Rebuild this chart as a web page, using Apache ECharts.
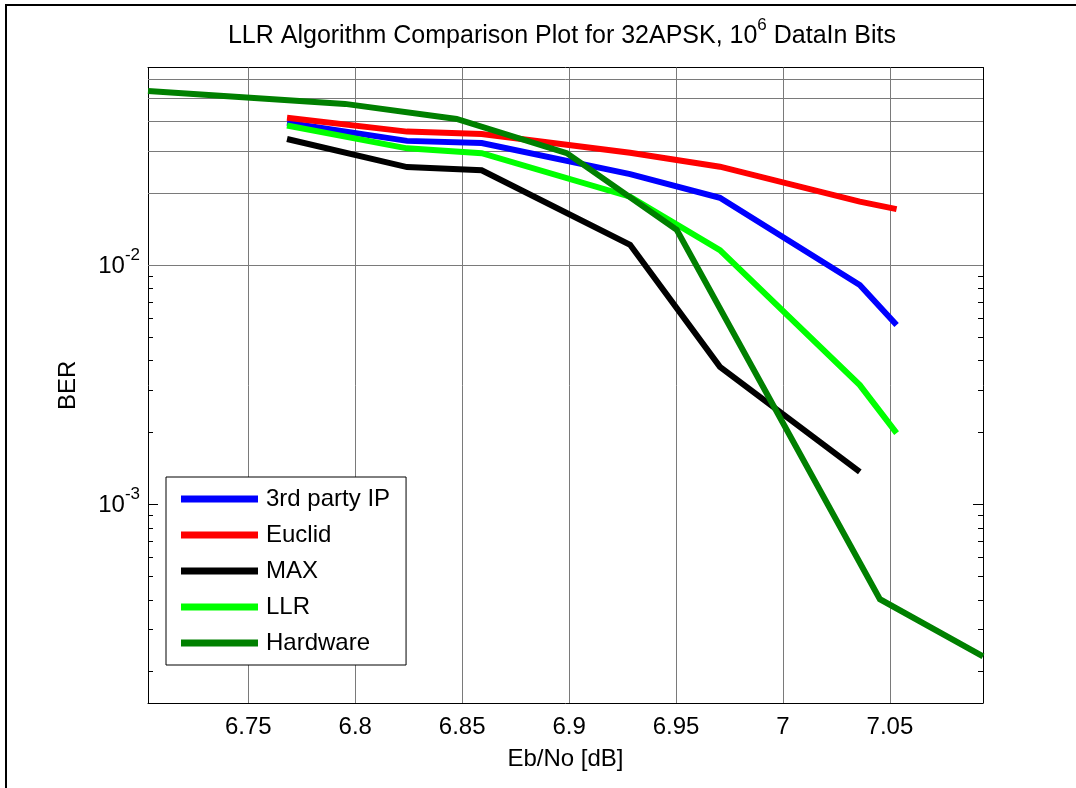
<!DOCTYPE html>
<html><head><meta charset="utf-8">
<script src="https://cdn.jsdelivr.net/npm/echarts@6/dist/echarts.min.js"></script>
<style>html,body{margin:0;padding:0;background:#fff}#c{width:1076px;height:788px}</style>
</head><body><div id="c"></div>
<script>
// ---- data ----
const ebno   = [6.7681, 6.8242, 6.8591, 6.9285, 6.9705, 7.0359, 7.0531];
const ebnoHw = [6.7031, 6.7952, 6.8474, 6.8989, 6.9503, 7.0453, 7.0935];
const berIP     = [0.0395, 0.0332, 0.0325, 0.0241, 0.0192, 0.00829, 0.00564];
const berEuclid = [0.0415, 0.0363, 0.0355, 0.0296, 0.0259, 0.0185, 0.0172];
const berMax    = [0.0338, 0.0258, 0.0250, 0.0122, 0.00377, 0.00137];
const berLLR    = [0.0385, 0.0309, 0.0295, 0.0194, 0.0116, 0.00316, 0.00199];
const berHw     = [0.0537, 0.0474, 0.0410, 0.0295, 0.0141, 0.000402, 0.000232];
const seriesNames = ['3rd party IP', 'Euclid', 'MAX', 'LLR', 'Hardware'];
const xTicks = [6.75, 6.8, 6.85, 6.9, 6.95, 7.0, 7.05];
const yMajor = [1e-3, 1e-2];
const yMinor = [2e-4, 3e-4, 4e-4, 5e-4, 6e-4, 7e-4, 8e-4, 9e-4,
                2e-3, 3e-3, 4e-3, 5e-3, 6e-3, 7e-3, 8e-3, 9e-3,
                2e-2, 3e-2, 4e-2, 5e-2, 6e-2];
const xMin = 6.7031, xMax = 7.0935;
const yMin = 1.48e-4, yMax = 0.0673;

const FONT = "'Liberation Sans', Arial, sans-serif";
const pair = (xs, ys) => ys.map((v, i) => [xs[i], v]);

const chart = echarts.init(document.getElementById('c'), null, {renderer: 'canvas'});
const gridColor = '#7a7a7a';
const mkLine = (name, xs, ys, color) => ({
  name, type: 'line', xAxisIndex: 0, yAxisIndex: 0,
  data: pair(xs, ys), showSymbol: false, symbol: 'none', z: 3,
  lineStyle: {width: 6, color, join: 'miter', cap: 'butt'},
  itemStyle: {color}, animation: false
});

const yLabelFmt = v => {
  const e = Math.log10(v);
  if (Math.abs(e - Math.round(e)) < 1e-6) return '{b|10}{s|' + Math.round(e) + '}';
  return '';
};

const option = {
  animation: false,
  backgroundColor: '#fff',
  textStyle: {fontFamily: FONT},
  title: {
    text: '{a|LLR Algorithm Comparison Plot for 32APSK, 10}{s|6}{a| DataIn Bits}',
    left: 562, top: 15, textAlign: 'center', padding: 0,
    textStyle: {
      fontFamily: FONT, fontWeight: 'normal', color: '#000',
      rich: {
        a: {fontSize: 25, fontFamily: FONT, color: '#000', lineHeight: 34, verticalAlign: 'bottom'},
        s: {fontSize: 17, fontFamily: FONT, color: '#000', verticalAlign: 'top', padding: [2, 0, 0, 0]}
      }
    }
  },
  grid: {left: 148, top: 67.5, right: 93, bottom: 85, containLabel: false},
  legend: {
    orient: 'vertical', left: 166, top: 477,
    backgroundColor: '#fff', borderColor: '#000', borderWidth: 1, borderRadius: 0,
    padding: [10, 16, 10, 15],
    itemWidth: 77, itemHeight: 7, itemGap: 12, icon: 'rect',
    textStyle: {fontSize: 24, lineHeight: 24, color: '#000', fontFamily: FONT, padding: [0, 0, 0, 3]},
    data: seriesNames
  },
  graphic: [{
    type: 'rect', silent: true, z: 100,
    shape: {x: 6, y: 5, width: 1200, height: 1000},
    style: {fill: 'none', stroke: '#000', lineWidth: 2}
  }],
  xAxis: [{
    type: 'value', position: 'bottom', min: xMin, max: xMax,
    axisLine: {show: true, onZero: false, lineStyle: {color: '#000', width: 1}},
    axisTick: {show: true, inside: true, length: 9, customValues: xTicks, lineStyle: {color: '#000'}},
    axisLabel: {show: true, customValues: xTicks, fontSize: 24, color: '#000', fontFamily: FONT, margin: 12,
                formatter: v => String(Math.round(v * 100) / 100)},
    splitLine: {show: false},
    name: 'Eb/No [dB]', nameLocation: 'middle', nameGap: 44,
    nameTextStyle: {fontSize: 24, color: '#000', fontFamily: FONT}
  }, {
    type: 'value', position: 'top', min: xMin, max: xMax,
    axisLine: {show: true, onZero: false, lineStyle: {color: '#000', width: 1}},
    axisTick: {show: true, inside: true, length: 9, customValues: xTicks, lineStyle: {color: '#000'}},
    axisLabel: {show: false}, splitLine: {show: false}
  }],
  yAxis: [{
    type: 'log', logBase: 10, position: 'left', min: yMin, max: yMax,
    axisLine: {show: true, onZero: false, lineStyle: {color: '#000', width: 1}},
    axisTick: {show: true, inside: true, length: 10, lineStyle: {color: '#000'}},
    axisLabel: {show: true, margin: 8, formatter: yLabelFmt, color: '#000', padding: [0, 0, 6, 0],
      rich: {
        b: {fontSize: 24, fontFamily: FONT, color: '#000', lineHeight: 32, verticalAlign: 'bottom'},
        s: {fontSize: 17, fontFamily: FONT, color: '#000', verticalAlign: 'top'}
      }},
    splitLine: {show: false}, minorTick: {show: false},
    name: 'BER', nameLocation: 'middle', nameGap: 68, nameRotate: 90,
    nameTextStyle: {fontSize: 24, color: '#000', fontFamily: FONT}
  }, {
    type: 'log', logBase: 10, position: 'right', min: yMin, max: yMax,
    axisLine: {show: true, onZero: false, lineStyle: {color: '#000', width: 1}},
    axisTick: {show: true, inside: true, length: 10, lineStyle: {color: '#000'}},
    axisLabel: {show: false}, splitLine: {show: false}
  }, {
    type: 'log', logBase: 10, position: 'left', min: yMin, max: yMax,
    axisLine: {show: false},
    axisTick: {show: true, inside: true, length: 5, customValues: yMinor, lineStyle: {color: '#000'}},
    axisLabel: {show: false}, splitLine: {show: false}
  }, {
    type: 'log', logBase: 10, position: 'right', min: yMin, max: yMax,
    axisLine: {show: false},
    axisTick: {show: true, inside: true, length: 5, customValues: yMinor, lineStyle: {color: '#000'}},
    axisLabel: {show: false}, splitLine: {show: false}
  }],
  series: [
    {
      name: '_grid', type: 'line', data: [], xAxisIndex: 0, yAxisIndex: 0, z: 1, silent: true,
      markLine: {
        silent: true, symbol: 'none', z: 1, animation: false,
        label: {show: false},
        lineStyle: {color: gridColor, width: 1, type: 'solid'},
        emphasis: {disabled: true},
        data: xTicks.map(v => ({xAxis: v}))
          .concat(yMajor.concat(yMinor).map(v => ({yAxis: v})))
      }
    },
    mkLine('3rd party IP', ebno, berIP, '#0000ff'),
    mkLine('Euclid', ebno, berEuclid, '#ff0000'),
    mkLine('MAX', ebno, berMax, '#000000'),
    mkLine('LLR', ebno, berLLR, '#00ff00'),
    mkLine('Hardware', ebnoHw, berHw, '#008000')
  ]
};
chart.setOption(option);
</script>
</body></html>
